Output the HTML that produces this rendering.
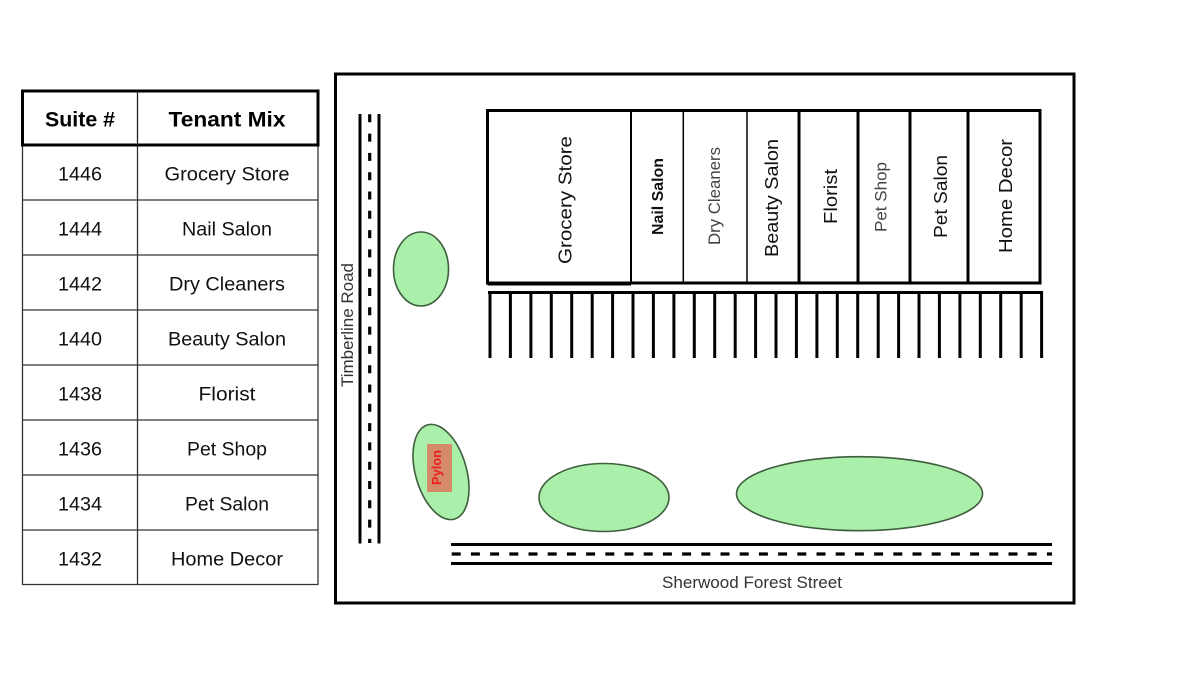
<!DOCTYPE html>
<html>
<head>
<meta charset="utf-8">
<style>
html,body{margin:0;padding:0;background:#fff;}
svg{display:block;}
text{font-family:"Liberation Sans",Arial,sans-serif;}
</style>
</head>
<body>
<svg width="1200" height="675" viewBox="0 0 1200 675" xmlns="http://www.w3.org/2000/svg">
<rect x="0" y="0" width="1200" height="675" fill="#fff"/>

<!-- TABLE -->
<g stroke="#333" stroke-width="1.3" fill="none">
  <line x1="22.5" y1="145" x2="22.5" y2="585"/>
  <line x1="318" y1="145" x2="318" y2="585"/>
  <line x1="137.5" y1="145" x2="137.5" y2="585"/>
  <line x1="22" y1="200" x2="318" y2="200"/>
  <line x1="22" y1="255" x2="318" y2="255"/>
  <line x1="22" y1="310" x2="318" y2="310"/>
  <line x1="22" y1="365" x2="318" y2="365"/>
  <line x1="22" y1="420" x2="318" y2="420"/>
  <line x1="22" y1="475" x2="318" y2="475"/>
  <line x1="22" y1="530" x2="318" y2="530"/>
  <line x1="22" y1="584.5" x2="318" y2="584.5"/>
</g>
<rect x="22.5" y="91" width="295.5" height="54" fill="none" stroke="#000" stroke-width="3"/>
<line x1="137.5" y1="91" x2="137.5" y2="145" stroke="#222" stroke-width="1.3"/>

<g font-weight="bold" font-size="21" fill="#000" text-anchor="middle">
  <text x="80" y="126.5" textLength="70" lengthAdjust="spacingAndGlyphs">Suite #</text>
  <text x="227" y="126.5" textLength="117" lengthAdjust="spacingAndGlyphs">Tenant Mix</text>
</g>
<g font-size="19" fill="#111" text-anchor="middle">
  <text x="80" y="180.7" textLength="44" lengthAdjust="spacingAndGlyphs">1446</text>
  <text x="227" y="180.7" textLength="125" lengthAdjust="spacingAndGlyphs">Grocery Store</text>
  <text x="80" y="235.7" textLength="44" lengthAdjust="spacingAndGlyphs">1444</text>
  <text x="227" y="235.7" textLength="90" lengthAdjust="spacingAndGlyphs">Nail Salon</text>
  <text x="80" y="290.7" textLength="44" lengthAdjust="spacingAndGlyphs">1442</text>
  <text x="227" y="290.7" textLength="116" lengthAdjust="spacingAndGlyphs">Dry Cleaners</text>
  <text x="80" y="345.7" textLength="44" lengthAdjust="spacingAndGlyphs">1440</text>
  <text x="227" y="345.7" textLength="118" lengthAdjust="spacingAndGlyphs">Beauty Salon</text>
  <text x="80" y="400.7" textLength="44" lengthAdjust="spacingAndGlyphs">1438</text>
  <text x="227" y="400.7" textLength="57" lengthAdjust="spacingAndGlyphs">Florist</text>
  <text x="80" y="455.7" textLength="44" lengthAdjust="spacingAndGlyphs">1436</text>
  <text x="227" y="455.7" textLength="80" lengthAdjust="spacingAndGlyphs">Pet Shop</text>
  <text x="80" y="510.7" textLength="44" lengthAdjust="spacingAndGlyphs">1434</text>
  <text x="227" y="510.7" textLength="84" lengthAdjust="spacingAndGlyphs">Pet Salon</text>
  <text x="80" y="565.7" textLength="44" lengthAdjust="spacingAndGlyphs">1432</text>
  <text x="227" y="565.7" textLength="112" lengthAdjust="spacingAndGlyphs">Home Decor</text>
</g>

<!-- MAP FRAME -->
<rect x="335.5" y="74" width="738.5" height="529" fill="none" stroke="#000" stroke-width="3"/>

<!-- Timberline Road -->
<g stroke="#000">
  <line x1="360" y1="114" x2="360" y2="543.5" stroke-width="3"/>
  <line x1="379" y1="114" x2="379" y2="543.5" stroke-width="3"/>
  <line x1="369.7" y1="114.3" x2="369.7" y2="543" stroke-width="3.2" stroke-dasharray="8 11.3"/>
</g>
<text transform="translate(353,325) rotate(-90)" x="0" y="0" font-size="17" fill="#333" text-anchor="middle" textLength="124" lengthAdjust="spacingAndGlyphs">Timberline Road</text>

<!-- Sherwood Forest Street -->
<g stroke="#000">
  <line x1="451" y1="544.5" x2="1052" y2="544.5" stroke-width="3"/>
  <line x1="451" y1="563.5" x2="1052" y2="563.5" stroke-width="3"/>
  <line x1="451.7" y1="554" x2="1052" y2="554" stroke-width="3.2" stroke-dasharray="9 10.2"/>
</g>
<text x="752" y="588" font-size="16.5" fill="#333" text-anchor="middle" textLength="180" lengthAdjust="spacingAndGlyphs">Sherwood Forest Street</text>

<!-- Building -->
<g fill="none" stroke="#000">
  <rect x="487.5" y="110.5" width="552.5" height="172.5" stroke-width="3"/>
  <line x1="487.5" y1="284" x2="631" y2="284" stroke-width="3"/>
  <line x1="631" y1="110.5" x2="631" y2="284" stroke-width="2"/>
  <line x1="683.3" y1="110.5" x2="683.3" y2="283" stroke-width="1.5"/>
  <line x1="747" y1="110.5" x2="747" y2="283" stroke-width="1.5"/>
  <line x1="799" y1="110.5" x2="799" y2="283" stroke-width="3"/>
  <line x1="858" y1="110.5" x2="858" y2="283" stroke-width="3"/>
  <line x1="910" y1="110.5" x2="910" y2="283" stroke-width="3"/>
  <line x1="968" y1="110.5" x2="968" y2="283" stroke-width="3"/>
</g>
<g text-anchor="middle" lengthAdjust="spacingAndGlyphs">
  <text transform="translate(571.5,200) rotate(-90)" font-size="18" fill="#111" textLength="128" lengthAdjust="spacingAndGlyphs">Grocery Store</text>
  <text transform="translate(663,196.5) rotate(-90)" font-size="16" font-weight="bold" fill="#111" textLength="77" lengthAdjust="spacingAndGlyphs">Nail Salon</text>
  <text transform="translate(720,196) rotate(-90)" font-size="16.5" fill="#444" textLength="98" lengthAdjust="spacingAndGlyphs">Dry Cleaners</text>
  <text transform="translate(778,198) rotate(-90)" font-size="18" fill="#111" textLength="118" lengthAdjust="spacingAndGlyphs">Beauty Salon</text>
  <text transform="translate(837,196.5) rotate(-90)" font-size="18" fill="#111" textLength="55" lengthAdjust="spacingAndGlyphs">Florist</text>
  <text transform="translate(886.5,197) rotate(-90)" font-size="17" fill="#444" textLength="70" lengthAdjust="spacingAndGlyphs">Pet Shop</text>
  <text transform="translate(947,196.5) rotate(-90)" font-size="18" fill="#111" textLength="83" lengthAdjust="spacingAndGlyphs">Pet Salon</text>
  <text transform="translate(1012,196) rotate(-90)" font-size="18" fill="#111" textLength="114" lengthAdjust="spacingAndGlyphs">Home Decor</text>
</g>

<!-- Parking -->
<g stroke="#000" stroke-width="3">
  <line x1="488" y1="292.5" x2="1043" y2="292.5"/>
</g>
<g stroke="#000" stroke-width="3" id="stalls">
  <line x1="490" y1="292" x2="490" y2="358"/>
  <line x1="510.4" y1="292" x2="510.4" y2="358"/>
  <line x1="530.9" y1="292" x2="530.9" y2="358"/>
  <line x1="551.3" y1="292" x2="551.3" y2="358"/>
  <line x1="571.7" y1="292" x2="571.7" y2="358"/>
  <line x1="592.2" y1="292" x2="592.2" y2="358"/>
  <line x1="612.6" y1="292" x2="612.6" y2="358"/>
  <line x1="633" y1="292" x2="633" y2="358"/>
  <line x1="653.4" y1="292" x2="653.4" y2="358"/>
  <line x1="673.9" y1="292" x2="673.9" y2="358"/>
  <line x1="694.3" y1="292" x2="694.3" y2="358"/>
  <line x1="714.7" y1="292" x2="714.7" y2="358"/>
  <line x1="735.2" y1="292" x2="735.2" y2="358"/>
  <line x1="755.6" y1="292" x2="755.6" y2="358"/>
  <line x1="776" y1="292" x2="776" y2="358"/>
  <line x1="796.4" y1="292" x2="796.4" y2="358"/>
  <line x1="816.9" y1="292" x2="816.9" y2="358"/>
  <line x1="837.3" y1="292" x2="837.3" y2="358"/>
  <line x1="857.7" y1="292" x2="857.7" y2="358"/>
  <line x1="878.2" y1="292" x2="878.2" y2="358"/>
  <line x1="898.6" y1="292" x2="898.6" y2="358"/>
  <line x1="919" y1="292" x2="919" y2="358"/>
  <line x1="939.4" y1="292" x2="939.4" y2="358"/>
  <line x1="959.9" y1="292" x2="959.9" y2="358"/>
  <line x1="980.3" y1="292" x2="980.3" y2="358"/>
  <line x1="1000.7" y1="292" x2="1000.7" y2="358"/>
  <line x1="1021.2" y1="292" x2="1021.2" y2="358"/>
  <line x1="1041.6" y1="292" x2="1041.6" y2="358"/>
</g>

<!-- Green islands -->
<g fill="#abf0aa" stroke="#3e5e3e" stroke-width="1.6">
  <ellipse cx="421" cy="269" rx="27.5" ry="37"/>
  <ellipse cx="441" cy="472" rx="25.5" ry="49" transform="rotate(-16 441 472)"/>
  <ellipse cx="604" cy="497.5" rx="65" ry="34"/>
  <ellipse cx="859.5" cy="493.7" rx="123" ry="37"/>
</g>

<!-- Pylon -->
<rect x="427" y="444" width="25" height="48" fill="#d58a6a"/>
<text transform="translate(441,467.5) rotate(-90)" font-size="13" font-weight="bold" fill="#e8231c" text-anchor="middle" textLength="35" lengthAdjust="spacingAndGlyphs">Pylon</text>

</svg>
</body>
</html>
